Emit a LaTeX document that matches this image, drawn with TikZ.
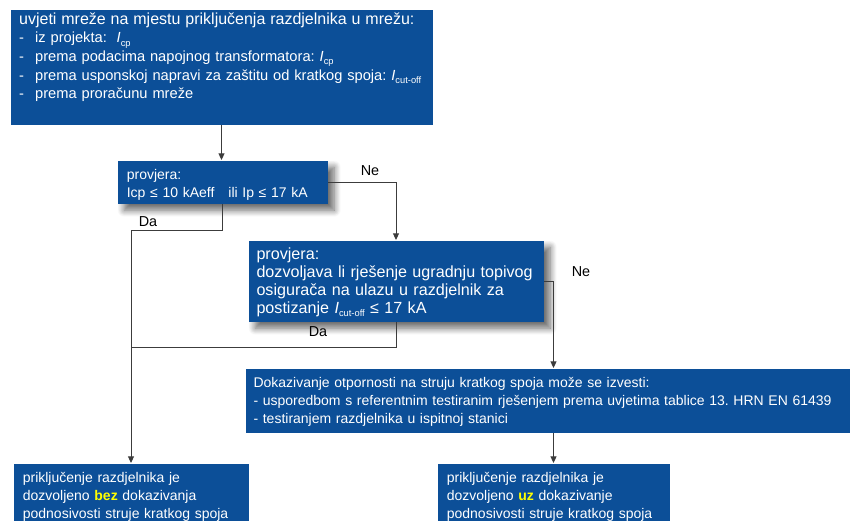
\documentclass[tikz,border=0pt]{standalone}
\usepackage{fontspec}
\setmainfont{Liberation Sans}
\usetikzlibrary{arrows.meta,shadows.blur}
\frenchspacing

\definecolor{plava}{RGB}{12,79,152}
\definecolor{linija}{RGB}{60,60,60}
\definecolor{zuta}{RGB}{255,255,0}

% struja s indeksom
\newcommand{\struja}[1]{\textit{I}\raisebox{-2.6pt}{\fontsize{7}{8}\selectfont #1}}

\tikzset{every picture/.style={line width=0.75pt}}
\tikzset{
	blok/.style={fill=plava, text=white, anchor=north west, align=left, inner xsep=7pt, inner ysep=3pt, text height=10.9pt, font=\fontsize{10.5}{13.7}\selectfont},
	sjena/.style={blur shadow={shadow xshift=5pt, shadow yshift=-5pt, shadow blur radius=5pt, shadow blur steps=10, shadow opacity=60}},
	strelica/.style={draw=linija, -{Triangle[length=5pt,width=4.5pt]}},
	veza/.style={draw=linija},
	oznaka/.style={inner sep=0pt, font=\fontsize{10.8}{12}\selectfont}
}

\begin{document}
\begin{tikzpicture}[x=0.75pt,y=0.75pt,yscale=-1,xscale=1]
		\useasboundingbox (0,0) rectangle (850,521);
		
		% Text Node
		\node (uvjeti) [blok, inner xsep=6.5pt, text width=303.5pt, text height=8pt, text depth=72.25pt, font=\fontsize{11}{14}\selectfont] at (10,9) {{\fontsize{12}{14}\selectfont uvjeti mreže na mjestu priključenja razdjelnika u mrežu:}\\
			\makebox[12pt][l]{-}iz projekta: \ \struja{cp}\\
			\makebox[12pt][l]{-}prema podacima napojnog transformatora: \struja{cp}\\
			\makebox[12pt][l]{-}prema usponskoj napravi za zaštitu od kratkog spoja: \struja{cut-off}\\
			\makebox[12pt][l]{-}prema proračunu mreže};
		% Text Node
		\node (provjera1) [blok, sjena, text width=143.5pt, text depth=15.35pt] at (117,160) {provjera:\\
			Icp ≤ 10 kAeff \ \ ili Ip ≤ 17 kA};
		% Text Node
		\node (provjera2) [blok, sjena, inner xsep=6pt, text width=209.25pt, text depth=43.85pt, font=\fontsize{12.1}{13.5}\selectfont] at (248,240) {provjera:\\
			dozvoljava li rješenje ugradnju topivog\\
			osigurača na ulazu u razdjelnik za\\
			postizanje \struja{cut-off} ≤ 17 kA};
		% Text Node
		\node (dokaz) [blok, inner xsep=6pt, text width=441pt, text depth=31.1pt] at (245,368) {Dokazivanje otpornosti na struju kratkog spoja može se izvesti:\\
			- usporedbom s referentnim testiranim rješenjem prema uvjetima tablice 13. HRN EN 61439\\
			- testiranjem razdjelnika u ispitnoj stanici};
		% Text Node
		\node (bez) [blok, text width=162.25pt, text depth=31.85pt] at (13,463) {priključenje razdjelnika je\\
			dozvoljeno \textcolor{zuta}{\textbf{bez}} dokazivanja\\
			podnosivosti struje kratkog spoja};
		% Text Node
		\node (uz) [blok, text width=160pt, text depth=31.85pt] at (437,463) {priključenje razdjelnika je\\
			dozvoljeno \textcolor{zuta}{\textbf{uz}} dokazivanje\\
			podnosivosti struje kratkog spoja};
		
		%Straight Lines
		\draw [strelica] (uvjeti.south) -- (uvjeti.south |- provjera1.north);
		%Straight Lines
		\draw [strelica] (provjera1.east) -| (provjera2.north);
		%Straight Lines
		\draw [strelica] (provjera1.south) -- ++(0,26) -| (bez.north);
		%Straight Lines
		\path (provjera2.south) ++(0,25) coordinate (spojDa);
		\draw [veza] (provjera2.south) -- (spojDa) -- (spojDa -| bez.north);
		%Straight Lines
		\draw [strelica] (provjera2.east) -| (dokaz.north -| uz.north);
		%Straight Lines
		\draw [strelica] (dokaz.south -| uz.north) -- (uz.north);
		
		% Text Node
		\node (ne1) [oznaka] at (370,171) {Ne};
		% Text Node
		\node (da1) [oznaka] at (148,222) {Da};
		% Text Node
		\node (ne2) [oznaka] at (581,272) {Ne};
		% Text Node
		\node (da2) [oznaka] at (318,332) {Da};
		
\end{tikzpicture}
\end{document}
